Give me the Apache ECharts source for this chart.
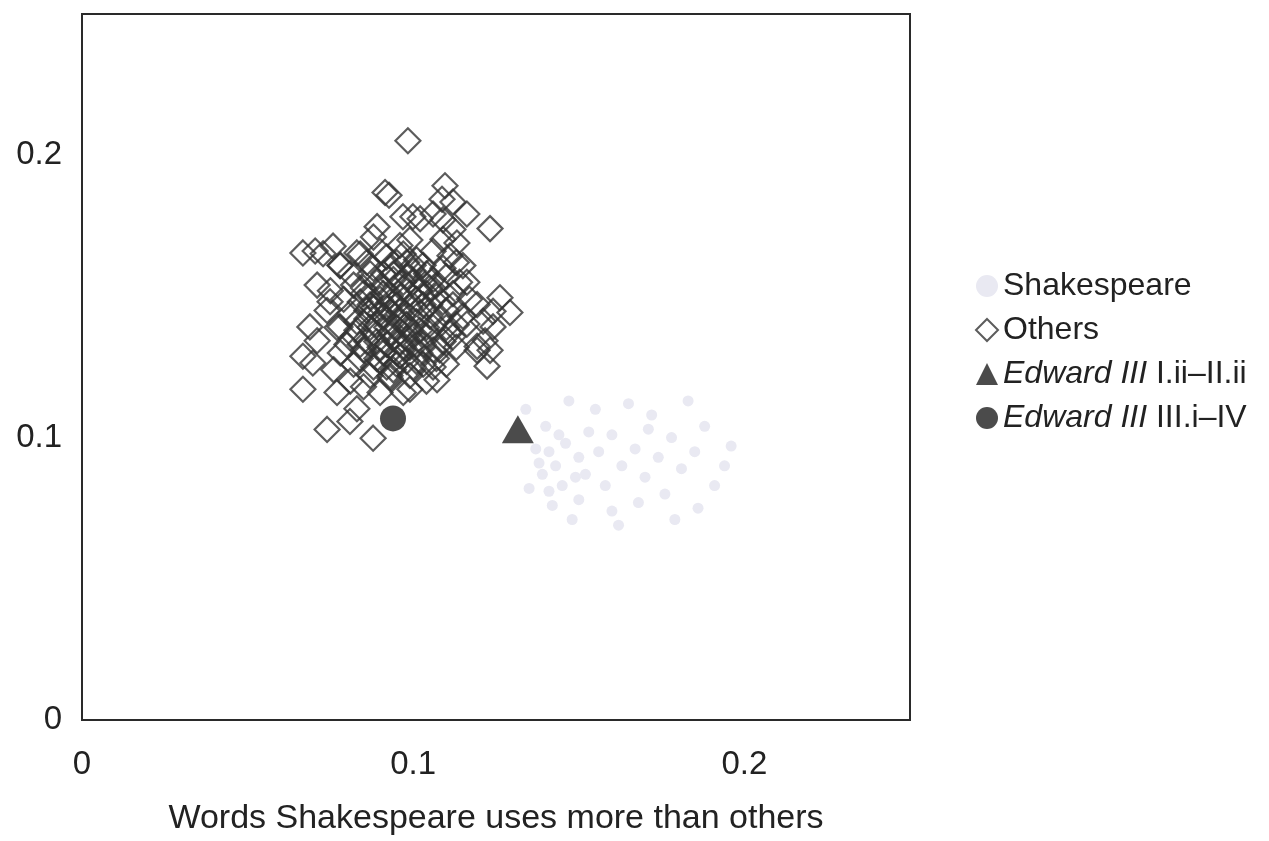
<!DOCTYPE html>
<html>
<head>
<meta charset="utf-8">
<script src="https://cdn.jsdelivr.net/npm/echarts@6/dist/echarts.min.js"></script>
<style>
html,body{margin:0;padding:0;background:#fff;}
#chart{width:1269px;height:841px;}
</style>
</head>
<body>
<div id="chart"></div>
<script>
// ---- data ----
var xTickLabels = ['0', '0.1', '0.2'];
var yTickLabels = ['0', '0.1', '0.2'];
var xAxisTitle = 'Words Shakespeare uses more than others';

var seriesNames = ['Shakespeare', 'Others', 'Edward III I.ii–II.ii', 'Edward III III.i–IV'];

var shakespearePoints = [
  [0.134,0.110],[0.140,0.104],[0.137,0.096],[0.143,0.090],[0.146,0.098],[0.150,0.093],[0.139,0.087],[0.145,0.083],[0.152,0.087],[0.156,0.095],
  [0.160,0.101],[0.163,0.090],[0.158,0.083],[0.167,0.096],[0.170,0.086],[0.174,0.093],[0.178,0.100],[0.181,0.089],[0.185,0.095],[0.176,0.080],
  [0.168,0.077],[0.160,0.074],[0.150,0.078],[0.142,0.076],[0.188,0.104],[0.183,0.113],[0.172,0.108],[0.165,0.112],[0.155,0.110],[0.147,0.113],
  [0.191,0.083],[0.196,0.097],[0.186,0.075],[0.135,0.082],[0.148,0.071],[0.162,0.069],[0.179,0.071],[0.171,0.103],[0.194,0.090],[0.153,0.102],
  [0.141,0.095],[0.144,0.101],[0.138,0.091],[0.149,0.086],[0.141,0.081]
];

var othersOuter = [
  [0.0984,0.2051],[0.0915,0.1868],[0.0927,0.1858],[0.0969,0.1782],[0.0999,0.1782],[0.0891,0.1747],[0.0704,0.1661],[0.0758,0.1678],[0.0830,0.1654],
  [0.1096,0.1892],[0.1087,0.1844],[0.1120,0.1834],[0.1162,0.1792],[0.1232,0.1740],[0.1060,0.1792],[0.1021,0.1775],[0.1090,0.1771],[0.1120,0.1737],
  [0.1132,0.1689],[0.1090,0.1702],[0.1262,0.1495],[0.1292,0.1443],[0.1241,0.1447],[0.1211,0.1412],[0.1241,0.1392],[0.1217,0.1343],[0.1232,0.1309],
  [0.1162,0.1550],[0.1150,0.1609],[0.1111,0.1644],[0.1193,0.1471],[0.1162,0.1402],[0.1120,0.1357],[0.1193,0.1323],[0.0667,0.1654],[0.0728,0.1651],
  [0.0710,0.1540],[0.0688,0.1392],[0.0710,0.1343],[0.0749,0.1481],[0.0779,0.1609],[0.0779,0.1392],[0.0667,0.1288],[0.0667,0.1171],[0.0697,0.1264],
  [0.0770,0.1160],[0.0740,0.1029],[0.0830,0.1102],[0.0879,0.0998],[0.0809,0.1057],[0.0930,0.1219],[0.1223,0.1253],[0.1193,0.1309],[0.1072,0.1205],
  [0.0990,0.1171]
];

var othersCore = [
  [0.084,0.165],[0.090,0.166],[0.096,0.168],[0.101,0.163],[0.093,0.160],[0.087,0.158],[0.082,0.154],[0.098,0.157],[0.104,0.158],[0.109,0.160],
  [0.079,0.149],[0.085,0.151],[0.091,0.153],[0.096,0.150],[0.102,0.152],[0.107,0.154],[0.112,0.151],[0.081,0.144],[0.088,0.146],[0.094,0.144],
  [0.099,0.146],[0.105,0.147],[0.110,0.145],[0.115,0.143],[0.077,0.139],[0.083,0.138],[0.089,0.140],[0.095,0.139],[0.101,0.141],[0.106,0.139],
  [0.111,0.137],[0.080,0.133],[0.086,0.134],[0.092,0.133],[0.098,0.135],[0.103,0.133],[0.108,0.131],[0.084,0.128],[0.090,0.127],[0.096,0.129],
  [0.101,0.127],[0.106,0.125],[0.087,0.122],[0.093,0.121],[0.099,0.122],[0.104,0.120],[0.095,0.162],[0.099,0.170],[0.088,0.171],[0.106,0.166],
  [0.113,0.162],[0.078,0.161],[0.075,0.152],[0.074,0.145],[0.114,0.155],[0.117,0.149],[0.082,0.126],[0.078,0.130],[0.097,0.116],[0.090,0.116],
  [0.085,0.118],[0.110,0.126],[0.113,0.132],[0.076,0.124],[0.081,0.120],[0.092,0.146],[0.097,0.143],[0.087,0.150],[0.100,0.155],[0.093,0.137]
];

var othersDense = [
  [0.086,0.162],[0.092,0.164],[0.097,0.165],[0.103,0.161],[0.089,0.155],[0.094,0.156],[0.100,0.159],[0.106,0.156],[0.084,0.148],[0.090,0.149],
  [0.095,0.147],[0.101,0.149],[0.107,0.150],[0.112,0.147],[0.086,0.142],[0.091,0.143],[0.096,0.141],[0.102,0.144],[0.108,0.142],[0.113,0.140],
  [0.082,0.136],[0.088,0.137],[0.094,0.135],[0.099,0.138],[0.104,0.136],[0.109,0.134],[0.085,0.131],[0.091,0.130],[0.097,0.132],[0.102,0.130],
  [0.107,0.128],[0.088,0.125],[0.094,0.124],[0.100,0.125],[0.091,0.158],[0.097,0.153],[0.103,0.155],[0.093,0.150],[0.089,0.134],[0.095,0.126],
  [0.083,0.141],[0.105,0.143],[0.099,0.132],[0.092,0.139],[0.098,0.162],[0.104,0.151],[0.081,0.158],[0.110,0.157],[0.086,0.145],[0.100,0.136],
  [0.088,0.160],[0.094,0.158],[0.100,0.161],[0.085,0.153],[0.091,0.151],[0.097,0.155],[0.103,0.147],[0.109,0.148],[0.087,0.139],[0.093,0.141],
  [0.098,0.140],[0.104,0.139],[0.110,0.139],[0.084,0.133],[0.090,0.132],[0.096,0.134],[0.101,0.133],[0.106,0.131],[0.089,0.128],[0.095,0.130],
  [0.092,0.125],[0.098,0.127],[0.103,0.126],[0.087,0.147],[0.093,0.148],[0.099,0.151],[0.105,0.153],[0.096,0.145],[0.090,0.144],[0.102,0.138]
];

var edwardA = [[0.1316, 0.1030]];
var edwardB = [[0.0939, 0.1068]];

// ---- chart ----
var FONT = "'Liberation Sans', Arial, Helvetica, sans-serif";
var chart = echarts.init(document.getElementById('chart'), null, {renderer: 'canvas'});

function tickFmt(labels) {
  return function (v) {
    var k = Math.round(v * 10);
    if (Math.abs(v * 10 - k) > 1e-6) return '';
    return labels[k] !== undefined ? labels[k] : '';
  };
}

chart.setOption({
  animation: false,
  backgroundColor: '#fff',
  grid: {left: 82, right: 359, top: 14, bottom: 105, show: true, borderColor: '#2a2a2a', borderWidth: 2, backgroundColor: 'transparent'},
  xAxis: {
    type: 'value', min: 0, max: 0.25, interval: 0.1,
    splitLine: {show: false}, axisTick: {show: false}, axisLine: {show: false},
    axisLabel: {formatter: tickFmt(xTickLabels), fontFamily: FONT, fontSize: 33, color: '#222', margin: 28, showMaxLabel: false},
    name: xAxisTitle, nameLocation: 'middle', nameGap: 82,
    nameTextStyle: {fontFamily: FONT, fontSize: 34, color: '#222'}
  },
  yAxis: {
    type: 'value', min: 0, max: 0.25, interval: 0.1,
    splitLine: {show: false}, axisTick: {show: false}, axisLine: {show: false},
    axisLabel: {formatter: tickFmt(yTickLabels), fontFamily: FONT, fontSize: 33, color: '#222', margin: 20, showMaxLabel: false}
  },
  legend: {
    orient: 'vertical', left: 970, top: 265, itemGap: 12, itemWidth: 22, itemHeight: 22,
    data: seriesNames,
    formatter: function (name) {
      if (name.indexOf('Edward III') === 0) return '{i|Edward III}' + name.slice(10);
      return name;
    },
    textStyle: {fontFamily: FONT, fontSize: 32, color: '#222',
      rich: {i: {fontFamily: FONT, fontSize: 32, fontStyle: 'italic', color: '#222'}}}
  },
  series: [
    {
      name: seriesNames[0], type: 'scatter', symbol: 'circle', symbolSize: 11,
      itemStyle: {color: '#e9e9f2', opacity: 1},
      data: shakespearePoints, z: 1
    },
    {
      name: seriesNames[1], type: 'scatter', symbol: 'diamond', symbolSize: 25,
      itemStyle: {color: 'rgba(255,255,255,0)', borderColor: '#333', borderWidth: 2.2},
      data: othersOuter.concat(othersCore, othersDense), z: 2
    },
    {
      name: seriesNames[2], type: 'scatter', symbol: 'triangle', symbolSize: [32, 28],
      itemStyle: {color: '#1e1e1e'},
      data: edwardA, z: 3
    },
    {
      name: seriesNames[3], type: 'scatter', symbol: 'circle', symbolSize: 26,
      itemStyle: {color: '#1e1e1e'},
      data: edwardB, z: 3
    }
  ]
});
</script>
</body>
</html>
